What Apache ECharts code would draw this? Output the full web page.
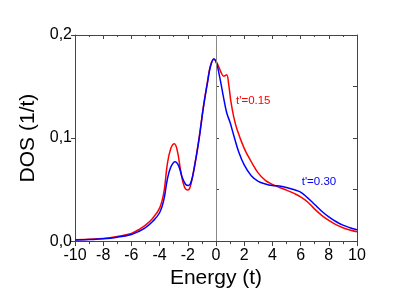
<!DOCTYPE html>
<html>
<head>
<meta charset="utf-8">
<script src="https://cdn.jsdelivr.net/npm/echarts@6/dist/echarts.min.js"></script>
<style>html,body{margin:0;padding:0;background:#fff;}#c{width:415px;height:294px;}</style>
</head>
<body>
<div id="c"></div>
<script>
const energyRed = [-10,-9,-8,-7,-6,-5.5,-5,-4.5,-4,-3.7,-3.45,-3.2,-2.95,-2.75,-2.5,-2.25,-2.0,-1.8,-1.5,-1.2,-0.9,-0.6,-0.4,-0.15,0.1,0.35,0.55,0.75,0.9,1.05,1.25,1.5,2.0,2.5,3.0,3.5,4.0,4.5,5.0,5.5,6.0,6.5,7.0,7.5,8.0,8.5,9.0,9.5,10];
const dosRed = [0.0012,0.0018,0.0025,0.0045,0.0075,0.011,0.0155,0.022,0.032,0.047,0.075,0.090,0.0945,0.088,0.068,0.053,0.0495,0.054,0.075,0.100,0.130,0.155,0.170,0.1768,0.172,0.164,0.160,0.1615,0.152,0.136,0.121,0.108,0.090,0.077,0.066,0.059,0.055,0.052,0.0495,0.0465,0.043,0.038,0.031,0.025,0.020,0.016,0.013,0.0108,0.009];
const energyBlue = [-10,-9,-8,-7,-6,-5.5,-5,-4.5,-4,-3.7,-3.45,-3.2,-2.9,-2.65,-2.4,-2.15,-1.95,-1.75,-1.5,-1.2,-0.9,-0.6,-0.4,-0.15,0.05,0.25,0.5,0.75,1.0,1.25,1.6,2.0,2.5,3.0,3.5,4.0,4.5,5.0,5.5,6.0,6.5,7.0,7.5,8.0,8.5,9.0,9.5,10];
const dosBlue = [0.001,0.0015,0.0022,0.0038,0.0065,0.0092,0.013,0.019,0.0275,0.040,0.060,0.072,0.077,0.073,0.062,0.055,0.054,0.058,0.074,0.099,0.129,0.154,0.169,0.1768,0.172,0.160,0.142,0.125,0.115,0.103,0.087,0.074,0.0635,0.058,0.0555,0.054,0.0535,0.052,0.050,0.0475,0.042,0.0355,0.029,0.0235,0.019,0.0155,0.013,0.011];
const xTicks = [-10,-8,-6,-4,-2,0,2,4,6,8,10];
const yTickLabels = ['0,0','0,1','0,2'];
const seriesNames = ["t'=0.15","t'=0.30"];
const labelPos = [[1.42,0.136],[6.08,0.0571]];

const font = 'Liberation Sans, Arial, sans-serif';
const axisColor = '#444';
const chart = echarts.init(document.getElementById('c'));
const zip = (a,b)=>a.map((v,i)=>[v,b[i]]);
chart.setOption({
  animation:false,
  grid:{left:75,right:58,top:35,bottom:50,containLabel:false},
  xAxis:[
    {type:'value',position:'bottom',min:-10,max:10,interval:2,
     name:'Energy (t)',nameLocation:'middle',nameGap:25,
     nameTextStyle:{fontFamily:font,fontSize:21,color:'#000'},
     axisLine:{show:true,onZero:false,lineStyle:{color:axisColor,width:1}},
     axisTick:{show:true,inside:false,length:5,lineStyle:{color:axisColor}},
     minorTick:{show:true,splitNumber:2,length:3,lineStyle:{color:axisColor}},
     axisLabel:{fontFamily:font,fontSize:16,color:'#000',margin:6,
       formatter:v=>xTicks.includes(v)?String(v):''},
     splitLine:{show:false}},
    {type:'value',position:'top',min:-10,max:10,interval:2,
     axisLine:{show:true,onZero:false,lineStyle:{color:axisColor,width:1}},
     axisTick:{show:true,inside:true,length:4,lineStyle:{color:axisColor}},
     minorTick:{show:true,splitNumber:2,length:2,lineStyle:{color:axisColor}},
     axisLabel:{show:false},splitLine:{show:false}}
  ],
  yAxis:[
    {type:'value',position:'left',min:0,max:0.2,interval:0.1,
     name:'DOS (1/t)',nameLocation:'middle',nameGap:36,
     nameTextStyle:{fontFamily:font,fontSize:21,color:'#000'},
     axisLine:{show:true,onZero:false,lineStyle:{color:axisColor,width:1}},
     axisTick:{show:true,inside:false,length:4,lineStyle:{color:axisColor}},
     axisLabel:{fontFamily:font,fontSize:16,color:'#000',margin:3,
       formatter:(v)=>yTickLabels[Math.round(v*10)]||''},
     splitLine:{show:false}},
    {type:'value',position:'left',min:0,max:0.2,interval:0.05,
     axisLine:{show:false},
     axisTick:{show:true,inside:true,length:3,lineStyle:{color:axisColor}},
     axisLabel:{show:false},splitLine:{show:false}},
    {type:'value',position:'right',min:0,max:0.2,interval:0.05,
     axisLine:{show:true,onZero:false,lineStyle:{color:axisColor,width:1}},
     axisTick:{show:true,inside:true,length:4,lineStyle:{color:axisColor}},
     axisLabel:{show:false},splitLine:{show:false}}
  ],
  series:[
    {name:seriesNames[0],type:'line',data:zip(energyRed,dosRed),smooth:0.4,showSymbol:false,
     lineStyle:{color:'#ff0000',width:1.5},z:3,
     markLine:{silent:true,symbol:'none',label:{show:false},
       lineStyle:{color:'#888',width:1,type:'solid'},data:[{xAxis:0}]},
     markPoint:{symbol:'circle',symbolSize:0,silent:true,
       label:{show:true,position:'right',distance:0,formatter:seriesNames[0],
         fontFamily:font,fontSize:11.5,color:'#ff0000'},
       data:[{coord:labelPos[0]}]}},
    {name:seriesNames[1],type:'line',data:zip(energyBlue,dosBlue),smooth:0.4,showSymbol:false,
     lineStyle:{color:'#0000ff',width:1.5},z:4,
     markPoint:{symbol:'circle',symbolSize:0,silent:true,
       label:{show:true,position:'right',distance:0,formatter:seriesNames[1],
         fontFamily:font,fontSize:11.5,color:'#0000ff'},
       data:[{coord:labelPos[1]}]}}
  ]
});
</script>
</body>
</html>
